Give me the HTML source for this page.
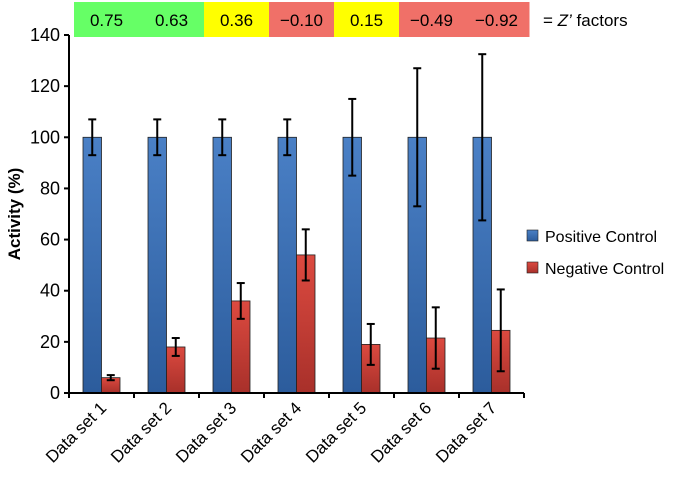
<!DOCTYPE html>
<html><head><meta charset="utf-8"><style>
body{margin:0;background:#fff;font-family:"Liberation Sans",Arial,sans-serif}
</style></head><body>
<svg id="c" width="680" height="475" xmlns="http://www.w3.org/2000/svg">
<defs>
<linearGradient id="gb" x1="0" y1="0" x2="0" y2="1"><stop offset="0" stop-color="#4a80c6"/><stop offset="1" stop-color="#2c5c9c"/></linearGradient>
<linearGradient id="gr" x1="0" y1="0" x2="0" y2="1"><stop offset="0" stop-color="#dc4a40"/><stop offset="1" stop-color="#a8302a"/></linearGradient>
</defs>
<g id="band"></g>
<g id="plot"></g>
</svg>
<script>
const categories=["Data set 1","Data set 2","Data set 3","Data set 4","Data set 5","Data set 6","Data set 7"];
const posValues=[100,100,100,100,100,100,100];
const posErr=[7,7,7,7,15,27,32.5];
const negValues=[6,18,36,54,19,21.5,24.5];
const negErr=[1,3.5,7,10,8,12,16];
const yTicks=[0,20,40,60,80,100,120,140];
const zLabels=["0.75","0.63","0.36","\u22120.10","0.15","\u22120.49","\u22120.92"];
const zColors=["#66ff66","#66ff66","#ffff00","#f07068","#ffff00","#f07068","#f07068"];

const NS="http://www.w3.org/2000/svg";
const x0=69,bw=65,y0=393,yMax=140,yTop=35;
const X=i=>x0+i*bw;
const Y=v=>y0-(v/yMax)*(y0-yTop);
function mk(t,a,p){const e=document.createElementNS(NS,t);for(const k in a)e.setAttribute(k,a[k]);(p||document.getElementById('plot')).appendChild(e);return e;}

const band=document.getElementById('band');
categories.forEach((c,i)=>{
  const r=mk('rect',{x:X(i)+5,y:2,width:bw+0.5,height:35,fill:zColors[i]},band);
  
  
  const t=mk('text',{x:X(i)+5+bw/2,y:26,'text-anchor':'middle','font-size':17,fill:'#000'},band);
  t.textContent=zLabels[i];
  
  
});
const zt=mk('text',{x:543,y:26,'font-size':17,fill:'#000'},band);
zt.innerHTML='=  <tspan font-style="italic">Z\u2019</tspan> factors';



yTicks.forEach(v=>{
  mk('line',{x1:x0-5,x2:x0,y1:Y(v),y2:Y(v),stroke:'#000','stroke-width':2});
  const t=mk('text',{x:x0-9,y:Y(v)+6,'text-anchor':'end','font-size':18});
  t.textContent=v;
  
  
});
const yt=mk('text',{transform:'translate(20,214) rotate(-90)','text-anchor':'middle','font-size':17,'font-weight':'bold'});
yt.textContent='Activity  (%)';



function err(cx,v,e){
  mk('line',{x1:cx,x2:cx,y1:Y(v-e),y2:Y(v+e),stroke:'#000','stroke-width':2});
  mk('line',{x1:cx-4,x2:cx+4,y1:Y(v-e),y2:Y(v-e),stroke:'#000','stroke-width':2});
  mk('line',{x1:cx-4,x2:cx+4,y1:Y(v+e),y2:Y(v+e),stroke:'#000','stroke-width':2});
}
const w=18.5;
categories.forEach((c,i)=>{
  const cx=X(i)+bw/2;
  const b=mk('rect',{x:cx-w,y:Y(posValues[i]),width:w,height:y0-Y(posValues[i]),fill:'url(#gb)',stroke:'#222','stroke-width':0.8});
  
  
  const r=mk('rect',{x:cx,y:Y(negValues[i]),width:w,height:y0-Y(negValues[i]),fill:'url(#gr)',stroke:'#222','stroke-width':0.8});
  
  
  err(cx-w/2,posValues[i],posErr[i]);
  err(cx+w/2,negValues[i],negErr[i]);
  mk('line',{x1:X(i+1),x2:X(i+1),y1:y0,y2:y0+5,stroke:'#000','stroke-width':2});
  const t=mk('text',{transform:`translate(${cx+6},${y0+16}) rotate(-45)`,'text-anchor':'end','font-size':17});
  t.textContent=c;
  
  
});
mk('line',{x1:x0,x2:x0,y1:yTop,y2:y0+5,stroke:'#000','stroke-width':2});
mk('line',{x1:x0,x2:X(7),y1:y0,y2:y0,stroke:'#000','stroke-width':2});

[["Positive Control","url(#gb)",236],["Negative Control","url(#gr)",268]].forEach(([l,f,y])=>{
  const s=mk('rect',{x:527,y:y-6,width:11,height:11,fill:f,stroke:'#222','stroke-width':0.6});
  
  
  const t=mk('text',{x:545,y:y+6,'font-size':16});
  t.textContent=l;
  
  
});
</script>
</body></html>
